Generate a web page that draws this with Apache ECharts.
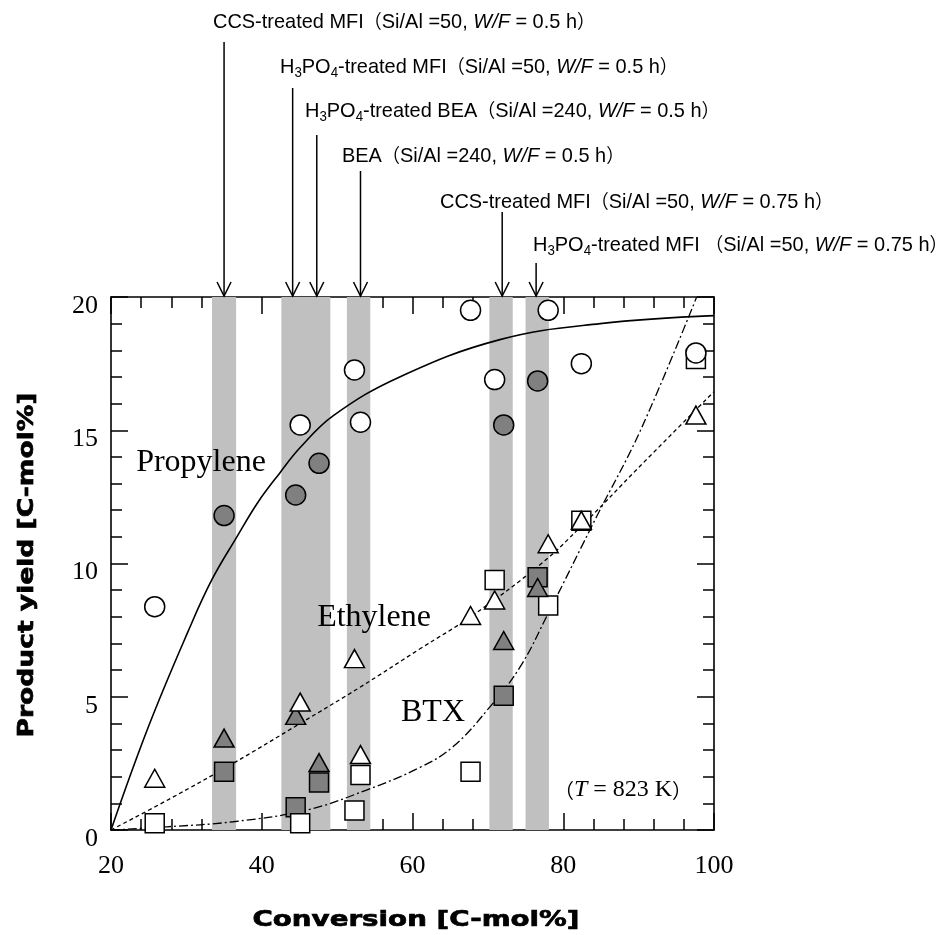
<!DOCTYPE html>
<html><head><meta charset="utf-8">
<script src="https://cdn.jsdelivr.net/npm/echarts@6/dist/echarts.min.js"></script>
<style>html,body{margin:0;padding:0;background:#fff}#c{width:940px;height:935px}</style>
</head><body><div id="c"></div>
<script>
// ---- data ----
const xTicks = [20, 40, 60, 80, 100];
const yTicks = [0, 5, 10, 15, 20];

// conversions of untreated / reference catalysts (open symbols)
const convOpen = [25.8, 45.1, 52.3, 53.1, 67.7, 70.9, 78.0, 82.4, 97.6];
const propOpen = [8.38, 15.2, 17.26, 15.3, 19.5, 16.9, 19.5, 17.5, 17.9];
const ethOpen  = [1.94, 4.8, 6.43, 2.83, 8.05, 8.63, 10.74, 11.62, 15.57];
const btxOpen  = [0.25, 0.25, 0.73, 2.06, 2.19, 9.38, 8.42, 11.6, 17.67];

// conversions of treated catalysts (gray symbols)
const convFill = [35.0, 44.5, 47.6, 72.1, 76.6];
const propFill = [11.8, 12.57, 13.76, 15.2, 16.85];
const ethFill  = [3.45, 4.3, 2.53, 7.11, 9.1];
const btxFill  = [2.19, 0.85, 1.78, 5.04, 9.48];

// trend curves
const propCurveX = [20, 25, 30.3, 33.4, 36.7, 39.5, 42.4, 45.1, 49.5, 58.3, 71.6, 84.9, 100];
const propCurveY = [0, 3.9, 7.5, 9.4, 11.0, 12.3, 13.4, 14.35, 15.55, 17.0, 18.4, 19.0, 19.3];
const ethCurveX = [20, 28, 36.2, 45.1, 53, 61, 67.7, 76.9, 82.4, 90, 100];
const ethCurveY = [0, 1.2, 2.5, 4.0, 5.35, 6.8, 8.0, 9.95, 11.4, 13.6, 16.45];
const btxCurveX = [20, 27.4, 36.2, 46, 53.9, 61, 65.4, 70.3, 74.3, 78, 84.5, 90.25, 97.7];
const btxCurveY = [0, 0.12, 0.31, 0.75, 1.5, 2.35, 3.13, 4.63, 6.13, 8.13, 11.8, 15.0, 20];

// gray bands (conversion ranges)
const bandStart = [33.4, 42.6, 51.3, 70.2, 75.0];
const bandEnd   = [36.6, 49.1, 54.4, 73.3, 78.1];

// arrows and their catalyst labels
const arrowX = [35.0, 44.1, 47.3, 53.1, 71.9, 76.4];
const arrowLabels = [
  '{n|CCS-treated MFI}{p|（}{n|Si/Al =50, }{i|W/F}{n| = 0.5 h}{p|）}',
  '{n|H}{s|3}{n|PO}{s|4}{n|-treated MFI}{p|（}{n|Si/Al =50, }{i|W/F}{n| = 0.5 h}{p|）}',
  '{n|H}{s|3}{n|PO}{s|4}{n|-treated BEA}{p|（}{n|Si/Al =240, }{i|W/F}{n| = 0.5 h}{p|）}',
  '{n|BEA}{p|（}{n|Si/Al =240, }{i|W/F}{n| = 0.5 h}{p|）}',
  '{n|CCS-treated MFI}{p|（}{n|Si/Al =50, }{i|W/F}{n| = 0.75 h}{p|）}',
  '{n|H}{s|3}{n|PO}{s|4}{n|-treated MFI }{p|（}{n|Si/Al =50, }{i|W/F}{n| = 0.75 h}{p|）}'
];
const xTitle = 'Conversion [C-mol%]';
const yTitle = 'Product yield [C-mol%]';

// ---- layout / style ----
const labelLeft = [213, 280, 305, 342, 440, 533];
const labelY = [22, 67, 111, 156, 202, 245];
const arrowTop = [42, 88, 135, 171, 212, 263];

const serif = "'Liberation Serif','Times New Roman',serif";
const heavyFont = "bold 22px 'DejaVu Sans'";
const narrow = "'Liberation Sans','Noto Sans CJK JP',sans-serif";
const cjk = "'Noto Sans CJK JP','Noto Sans CJK SC',sans-serif";

const zip = (a, b) => a.map((v, i) => [v, b[i]]);

function axisCommon(pos, showLabel) {
  return {
    type: 'value', position: pos,
    axisLine: { show: true, onZero: false, lineStyle: { color: '#000', width: 1.6 } },
    axisTick: { show: true, inside: true, length: 17, lineStyle: { color: '#000', width: 1.5 } },
    minorTick: { show: true, splitNumber: 5, length: 11, lineStyle: { color: '#000', width: 1.5 } },
    splitLine: { show: false }, minorSplitLine: { show: false },
    axisLabel: { show: showLabel }
  };
}

const xMin = xTicks[0], xMax = xTicks[xTicks.length - 1], xInt = xTicks[1] - xTicks[0];
const yMin = yTicks[0], yMax = yTicks[yTicks.length - 1], yInt = yTicks[1] - yTicks[0];

const xBottom = Object.assign(axisCommon('bottom', true), {
  min: xMin, max: xMax, interval: xInt,
  axisLabel: { show: true, fontFamily: serif, fontSize: 26, color: '#000', margin: 23 }
});
const xTop = Object.assign(axisCommon('top', false), { min: xMin, max: xMax, interval: xInt });
const yLeft = Object.assign(axisCommon('left', true), {
  min: yMin, max: yMax, interval: yInt,
  axisLabel: { show: true, fontFamily: serif, fontSize: 26, color: '#000', margin: 13,
               verticalAlign: 'top', lineHeight: 18 }
});
const yRight = Object.assign(axisCommon('right', false), { min: yMin, max: yMax, interval: yInt });

function scatter(name, x, y, symbol, size, fill, z) {
  return {
    name, type: 'scatter', data: zip(x, y), symbol, symbolSize: size, z,
    itemStyle: { color: fill, borderColor: '#000', borderWidth: 1.5, opacity: 1 },
    emphasis: { disabled: true }
  };
}
function curve(name, x, y, type, width, z) {
  return {
    name, type: 'line', data: zip(x, y), smooth: 0.4,
    showSymbol: false, symbol: 'none', z,
    lineStyle: { color: '#000', width, type }, emphasis: { disabled: true }
  };
}

const gray = '#808080';
const chart = echarts.init(document.getElementById('c'), null, { renderer: 'canvas' });
chart.setOption({
  animation: false,
  backgroundColor: '#fff',
  grid: { left: 111, right: 226, top: 297, bottom: 105 },
  xAxis: [xBottom, xTop],
  yAxis: [yLeft, yRight],
  series: [
    {
      name: 'bands', type: 'custom', z: 1, silent: true,
      data: zip(bandStart, bandEnd),
      renderItem: function (params, api) {
        const p1 = api.coord([api.value(0), yMax]);
        const p2 = api.coord([api.value(1), yMin]);
        return { type: 'rect', shape: { x: p1[0], y: p1[1], width: p2[0] - p1[0], height: p2[1] - p1[1] },
                 style: { fill: '#c0c0c0' } };
      }
    },
    curve('Propylene curve', propCurveX, propCurveY, 'solid', 1.6, 2),
    curve('Ethylene curve', ethCurveX, ethCurveY, [4, 3], 1.3, 2),
    curve('BTX curve', btxCurveX, btxCurveY, [9, 3, 2, 3], 1.3, 2),
    scatter('BTX treated', convFill, btxFill, 'rect', 19, gray, 3),
    scatter('BTX', convOpen, btxOpen, 'rect', 19, '#fff', 4),
    scatter('Ethylene treated', convFill, ethFill, 'triangle', [20, 18], gray, 5),
    scatter('Ethylene', convOpen, ethOpen, 'triangle', [20, 18], '#fff', 6),
    scatter('Propylene treated', convFill, propFill, 'circle', 20, gray, 7),
    scatter('Propylene', convOpen, propOpen, 'circle', 20, '#fff', 8)
  ]
});

// measure heavy titles so they span the reference lengths
const mctx = document.createElement('canvas').getContext('2d');
mctx.font = heavyFont;
const xTitleScale = 327 / mctx.measureText(xTitle).width;
const yTitleScale = 345 / mctx.measureText(yTitle).width;

// annotations: arrows + catalyst labels, curve names, temperature
const axisTopPx = chart.convertToPixel({ yAxisIndex: 0 }, yMax);
const graphics = [];
arrowX.forEach((xv, i) => {
  const px = chart.convertToPixel({ xAxisIndex: 0 }, xv);
  const tip = axisTopPx - 1;
  graphics.push({ type: 'line', z: 100, shape: { x1: px, y1: arrowTop[i], x2: px, y2: tip },
                  style: { stroke: '#000', lineWidth: 1.5 } });
  graphics.push({ type: 'polyline', z: 100, shape: { points: [[px - 7, tip - 14], [px, tip], [px + 7, tip - 14]] },
                  style: { stroke: '#000', lineWidth: 1.5, fill: null } });
  graphics.push({
    type: 'text', x: labelLeft[i], y: labelY[i], scaleX: 0.95, z: 100,
    style: {
      text: arrowLabels[i], align: 'left', verticalAlign: 'middle', fill: '#000',
      rich: {
        n: { fontFamily: narrow, fontSize: 21, lineHeight: 26, fill: '#000' },
        i: { fontFamily: narrow, fontSize: 21, fontStyle: 'italic', lineHeight: 26, fill: '#000' },
        s: { fontFamily: narrow, fontSize: 14, lineHeight: 14, verticalAlign: 'bottom', fill: '#000' },
        p: { fontFamily: cjk, fontSize: 19, lineHeight: 26, fill: '#000' }
      }
    }
  });
});
function label(text, x, y, size) {
  return { type: 'text', x, y, z: 100, style: { text, font: size + 'px ' + serif, fill: '#000', align: 'center', verticalAlign: 'middle' } };
}
graphics.push(label('Propylene', 201, 463, 32));
graphics.push(label('Ethylene', 374, 618, 32));
graphics.push(label('BTX', 433, 713, 32));
graphics.push({
  type: 'text', x: 623, y: 790, z: 100,
  style: {
    text: '{p|（}{i|T}{n| = 823 K}{p|）}', align: 'center', verticalAlign: 'middle',
    rich: {
      p: { fontFamily: cjk, fontSize: 20, lineHeight: 26, fill: '#000' },
      i: { fontFamily: serif, fontSize: 24, fontStyle: 'italic', lineHeight: 26, fill: '#000' },
      n: { fontFamily: serif, fontSize: 24, lineHeight: 26, fill: '#000' }
    }
  }
});
graphics.push({
  type: 'text', x: 416, y: 920, z: 100, scaleX: xTitleScale,
  style: { text: xTitle, font: heavyFont, fill: '#000', stroke: '#000', lineWidth: 0.7,
           align: 'center', verticalAlign: 'middle' }
});
graphics.push({
  type: 'text', x: 27, y: 565, z: 100, rotation: Math.PI / 2, scaleX: yTitleScale,
  style: { text: yTitle, font: heavyFont, fill: '#000', stroke: '#000', lineWidth: 0.7,
           align: 'center', verticalAlign: 'middle' }
});
chart.setOption({ graphic: graphics });
</script>
</body></html>
